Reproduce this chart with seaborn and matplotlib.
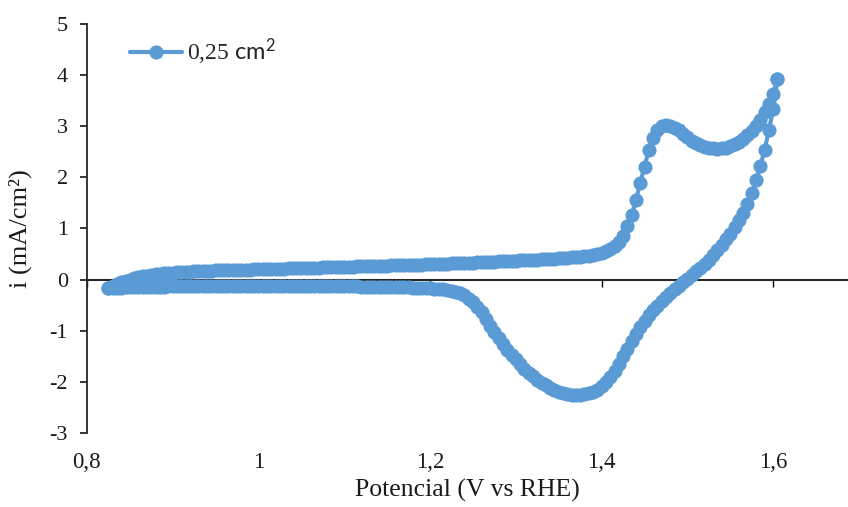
import numpy as np
import pandas as pd
import seaborn as sns
import matplotlib
matplotlib.use("Agg")
import matplotlib.pyplot as plt
from matplotlib.ticker import FuncFormatter, MultipleLocator

# Sweep potentials (mV vs RHE), shared by the anodic and cathodic branches
potential_mv = [
    825, 830, 835, 840, 845, 850, 855, 860, 865, 870,
    875, 880, 885, 890, 895, 900, 905, 910, 915, 920,
    925, 930, 935, 940, 945, 950, 955, 960, 965, 970,
    975, 980, 985, 990, 995, 1000, 1005, 1010, 1015, 1020,
    1025, 1030, 1035, 1040, 1045, 1050, 1055, 1060, 1065, 1070,
    1075, 1080, 1085, 1090, 1095, 1100, 1105, 1110, 1115, 1120,
    1125, 1130, 1135, 1140, 1145, 1150, 1155, 1160, 1165, 1170,
    1175, 1180, 1185, 1190, 1195, 1200, 1205, 1210, 1215, 1220,
    1225, 1230, 1235, 1240, 1245, 1250, 1255, 1260, 1265, 1270,
    1275, 1280, 1285, 1290, 1295, 1300, 1305, 1310, 1315, 1320,
    1325, 1330, 1335, 1340, 1345, 1350, 1355, 1360, 1365, 1370,
    1375, 1380, 1385, 1390, 1395, 1400, 1405, 1410, 1415, 1420,
    1425, 1430, 1435, 1440, 1445, 1450, 1455, 1460, 1465, 1470,
    1475, 1480, 1485, 1490, 1495, 1500, 1505, 1510, 1515, 1520,
    1525, 1530, 1535, 1540, 1545, 1550, 1555, 1560, 1565, 1570,
    1575, 1580, 1585, 1590, 1595, 1600, 1605,
]

# Current density on the forward (anodic) sweep, mA/cm2
anodic_sweep = [
    -0.17, -0.12, -0.08, -0.05, -0.02, 0.00, 0.03, 0.05, 0.07, 0.08,
    0.09, 0.10, 0.11, 0.12, 0.12, 0.13, 0.14, 0.14, 0.15, 0.155,
    0.16, 0.165, 0.17, 0.17, 0.175, 0.18, 0.18, 0.185, 0.185, 0.19,
    0.19, 0.19, 0.195, 0.195, 0.20, 0.20, 0.20, 0.20, 0.21, 0.21,
    0.21, 0.21, 0.22, 0.22, 0.22, 0.22, 0.23, 0.23, 0.23, 0.23,
    0.24, 0.24, 0.24, 0.24, 0.25, 0.25, 0.25, 0.25, 0.26, 0.26,
    0.26, 0.26, 0.27, 0.27, 0.27, 0.27, 0.28, 0.28, 0.28, 0.28,
    0.29, 0.29, 0.29, 0.29, 0.30, 0.30, 0.30, 0.31, 0.31, 0.31,
    0.32, 0.32, 0.32, 0.33, 0.33, 0.33, 0.34, 0.34, 0.34, 0.35,
    0.35, 0.36, 0.36, 0.36, 0.37, 0.37, 0.38, 0.38, 0.38, 0.39,
    0.39, 0.40, 0.40, 0.41, 0.41, 0.42, 0.42, 0.43, 0.44, 0.44,
    0.45, 0.46, 0.47, 0.49, 0.51, 0.53, 0.56, 0.60, 0.66, 0.74,
    0.86, 1.04, 1.26, 1.56, 1.89, 2.21, 2.53, 2.77, 2.92, 3.00,
    3.03, 3.01, 2.97, 2.92, 2.85, 2.78, 2.72, 2.67, 2.63, 2.60,
    2.58, 2.565, 2.56, 2.565, 2.58, 2.61, 2.65, 2.70, 2.76, 2.83,
    2.91, 3.00, 3.12, 3.27, 3.44, 3.64, 3.92,
]

# Current density on the return (cathodic) sweep, listed by ascending potential
cathodic_sweep = [
    -0.17, -0.165, -0.16, -0.155, -0.15, -0.15, -0.145, -0.145, -0.14, -0.14,
    -0.14, -0.135, -0.135, -0.135, -0.13, -0.13, -0.13, -0.13, -0.13, -0.13,
    -0.13, -0.13, -0.13, -0.13, -0.13, -0.13, -0.13, -0.13, -0.13, -0.13,
    -0.13, -0.13, -0.13, -0.13, -0.13, -0.13, -0.13, -0.13, -0.13, -0.13,
    -0.13, -0.13, -0.13, -0.13, -0.13, -0.13, -0.13, -0.13, -0.13, -0.13,
    -0.13, -0.13, -0.13, -0.13, -0.13, -0.13, -0.13, -0.13, -0.13, -0.135,
    -0.135, -0.135, -0.135, -0.14, -0.14, -0.14, -0.14, -0.145, -0.145, -0.15,
    -0.15, -0.155, -0.155, -0.16, -0.165, -0.17, -0.175, -0.18, -0.19, -0.20,
    -0.22, -0.24, -0.27, -0.31, -0.37, -0.44, -0.53, -0.64, -0.77, -0.90,
    -1.03, -1.15, -1.26, -1.37, -1.47, -1.56, -1.65, -1.74, -1.82, -1.89,
    -1.96, -2.02, -2.07, -2.12, -2.16, -2.19, -2.22, -2.24, -2.25, -2.25,
    -2.25, -2.24, -2.22, -2.19, -2.15, -2.09, -2.01, -1.91, -1.79, -1.65,
    -1.50, -1.35, -1.20, -1.06, -0.93, -0.81, -0.70, -0.60, -0.51, -0.42,
    -0.34, -0.26, -0.19, -0.12, -0.05, 0.02, 0.09, 0.16, 0.23, 0.31,
    0.39, 0.48, 0.58, 0.68, 0.79, 0.90, 1.02, 1.16, 1.31, 1.48,
    1.69, 1.95, 2.22, 2.54, 2.92, 3.34, 3.92,
]

x_ticks = [0.8, 1.0, 1.2, 1.4, 1.6]
series_label = r"0,25 $\mathsf{cm^{2}}$"
x_title = "Potencial (V vs RHE)"
y_title = "i (mA/cm²)"
BLUE = "#5B9BD5"

sns.set_style("ticks")
plt.rcParams.update({
    "font.family": ["Liberation Serif", "DejaVu Serif"],
    "axes.unicode_minus": False,
    "mathtext.fontset": "custom",
    "mathtext.sf": "Lato",
    "mathtext.rm": "Liberation Serif",
})

# Full cyclic sweep: forward branch, then the return branch back down
E_volts = np.array(potential_mv) / 1000.0
cv = pd.DataFrame({
    "E": np.concatenate([E_volts, E_volts[::-1]]),
    "i": np.concatenate([anodic_sweep, cathodic_sweep[::-1]]),
})

fig = plt.figure(figsize=(8.48, 5.07), dpi=100)
ax = fig.add_axes([0.1025, 0.146, 0.8963, 0.8067])

sns.lineplot(
    data=cv, x="E", y="i", sort=False, estimator=None, ax=ax,
    color=BLUE, linewidth=3.0, marker="o", markersize=10.2,
    markeredgewidth=0, markeredgecolor=BLUE, label=series_label,
    zorder=3, legend=False,
)

ax.set_xlim(0.8, 1.686)
ax.set_ylim(-3, 5)
ax.set_xticks(x_ticks)
ax.yaxis.set_major_locator(MultipleLocator(1))

comma = FuncFormatter(lambda v, _: f"{v:g}".replace(".", ","))
ax.yaxis.set_major_formatter(comma)

# Horizontal axis line sits at i = 0, with its labels along the bottom edge
ax.spines["bottom"].set_position(("data", 0))
ax.spines["bottom"].set_zorder(1)
ax.spines["bottom"].set_linewidth(1.5)
ax.spines["left"].set_linewidth(1.3)
for side in ("top", "right"):
    ax.spines[side].set_visible(False)
ax.tick_params(axis="x", direction="out", length=4.8, width=1.0,
               color="black", labelbottom=False)
ax.tick_params(axis="y", direction="out", length=4.8, width=1.1,
               color="black", labelsize=16, pad=9, labelcolor="#1a1a1a")
ax.set_xlabel("")
ax.set_ylabel(y_title, fontsize=19, color="#1a1a1a")
ax.yaxis.set_label_coords(-0.072, 0.5)

sec = ax.secondary_xaxis("bottom")
sec.set_xticks(x_ticks)
sec.xaxis.set_major_formatter(comma)
sec.tick_params(axis="x", length=0, pad=14, labelsize=16.5, labelcolor="#1a1a1a")
sec.spines["bottom"].set_visible(False)
sec.set_xlabel(x_title, fontsize=18.5, color="#1a1a1a", labelpad=4)

ax.legend(loc="center left", bbox_to_anchor=(130 / 848, 1 - 52 / 507),
          bbox_transform=fig.transFigure, frameon=False, borderpad=0,
          borderaxespad=0, handlelength=2.2, handletextpad=0.2,
          fontsize=17)

fig.savefig("out.png", dpi=100)
